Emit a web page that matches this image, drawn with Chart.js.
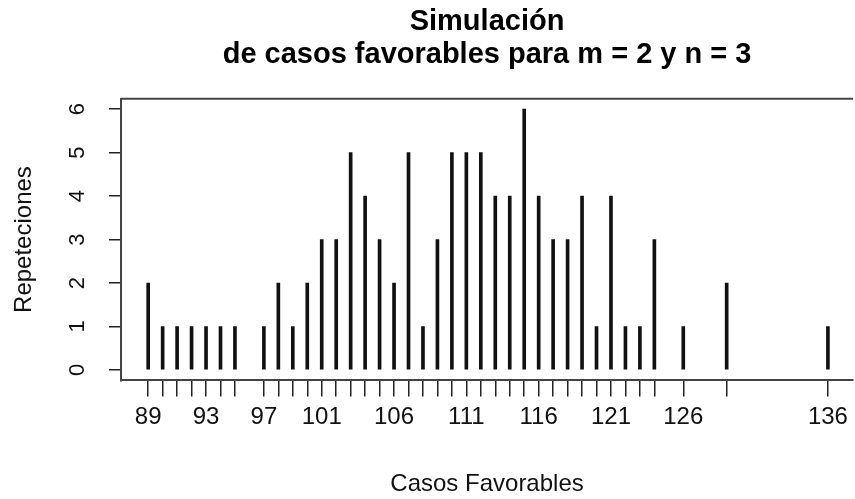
<!DOCTYPE html>
<html lang="es">
<head>
<meta charset="UTF-8">
<title>Simulación de casos favorables</title>
<script src="https://cdn.jsdelivr.net/npm/chart.js"></script>
<style>
  html, body { margin: 0; padding: 0; background: #fff; }
  #wrap { width: 855px; height: 499px; }
</style>
</head>
<body>
<div id="wrap"><canvas id="chart"></canvas></div>
<script>
// valores (casos favorables) y cuantas veces salieron
const casos = [89, 90, 91, 92, 93, 94, 95, 97, 98, 99, 100, 101, 102, 103, 104, 105, 106, 107, 108, 109, 110,
               111, 112, 113, 114, 115, 116, 117, 118, 119, 120, 121, 122, 123, 124, 126, 129, 136];
const repeticiones = [2, 1, 1, 1, 1, 1, 1, 1, 2, 1, 2, 3, 3, 5, 4, 3, 2, 5, 1, 3, 5,
                      5, 5, 4, 4, 6, 4, 3, 3, 4, 1, 4, 1, 1, 3, 1, 2, 1];
const etiquetasX = [89, 93, 97, 101, 106, 111, 116, 121, 126, 136];
const ticksY = [0, 1, 2, 3, 4, 5, 6];

const fontName = "'Liberation Sans', Arial, sans-serif";

// linea superior del recuadro
const boxTop = {
    id: 'boxTop',
    afterDraw(chart) {
        const { ctx, chartArea } = chart;
        ctx.save();
        ctx.strokeStyle = '#444';
        ctx.lineWidth = 2;
        ctx.beginPath();
        ctx.moveTo(chartArea.left, chartArea.top);
        ctx.lineTo(chartArea.right, chartArea.top);
        ctx.stroke();
        ctx.restore();
    }
};

new Chart(document.getElementById('chart'), {
    type: 'bar',
    data: {
        datasets: [{
            data: casos.map((c, i) => ({ x: c, y: repeticiones[i] })),
            backgroundColor: '#111',
            borderWidth: 0,
            barThickness: 3
        }]
    },
    options: {
        responsive: true,
        maintainAspectRatio: false,
        animation: false,
        layout: { padding: 0 },
        plugins: {
            legend: { display: false },
            tooltip: { enabled: false },
            title: {
                display: true,
                fullSize: false,
                text: ['Simulación', 'de casos favorables para m = 2 y n = 3'],
                color: '#000',
                font: { family: fontName, size: 29, weight: 'bold', lineHeight: 1.15 },
                padding: { top: 5, bottom: 27 }
            }
        },
        scales: {
            x: {
                type: 'linear',
                offset: false,
                min: 87.12,
                max: 137.74,
                afterBuildTicks: s => { s.ticks = casos.map(v => ({ value: v })); },
                afterFit: s => { s.height = 118.6; },
                grid: { offset: false, drawOnChartArea: false, tickLength: 16, color: '#222', lineWidth: 1.5 },
                border: { display: true, color: '#444', width: 2 },
                ticks: {
                    autoSkip: false,
                    maxRotation: 0,
                    padding: 7,
                    color: '#111',
                    font: { family: fontName, size: 24 },
                    callback: v => etiquetasX.includes(v) ? String(v) : ''
                },
                title: {
                    display: true,
                    text: 'Casos Favorables',
                    color: '#111',
                    font: { family: fontName, size: 24 },
                    padding: { top: 0, bottom: 0 }
                }
            },
            y: {
                min: -0.24,
                max: 6.24,
                afterBuildTicks: s => { s.ticks = ticksY.map(v => ({ value: v })); },
                afterFit: s => { s.width = 121; },
                grid: { drawOnChartArea: false, tickLength: 12, color: '#222', lineWidth: 1.5 },
                border: { display: true, color: '#444', width: 2 },
                ticks: {
                    minRotation: 90,
                    maxRotation: 90,
                    crossAlign: 'center',
                    padding: 25,
                    color: '#111',
                    font: { family: fontName, size: 22 }
                },
                title: {
                    display: true,
                    text: 'Repeteciones',
                    color: '#111',
                    font: { family: fontName, size: 24 },
                    padding: { top: 10, bottom: 0 }
                }
            }
        }
    },
    plugins: [boxTop]
});
</script>
</body>
</html>
